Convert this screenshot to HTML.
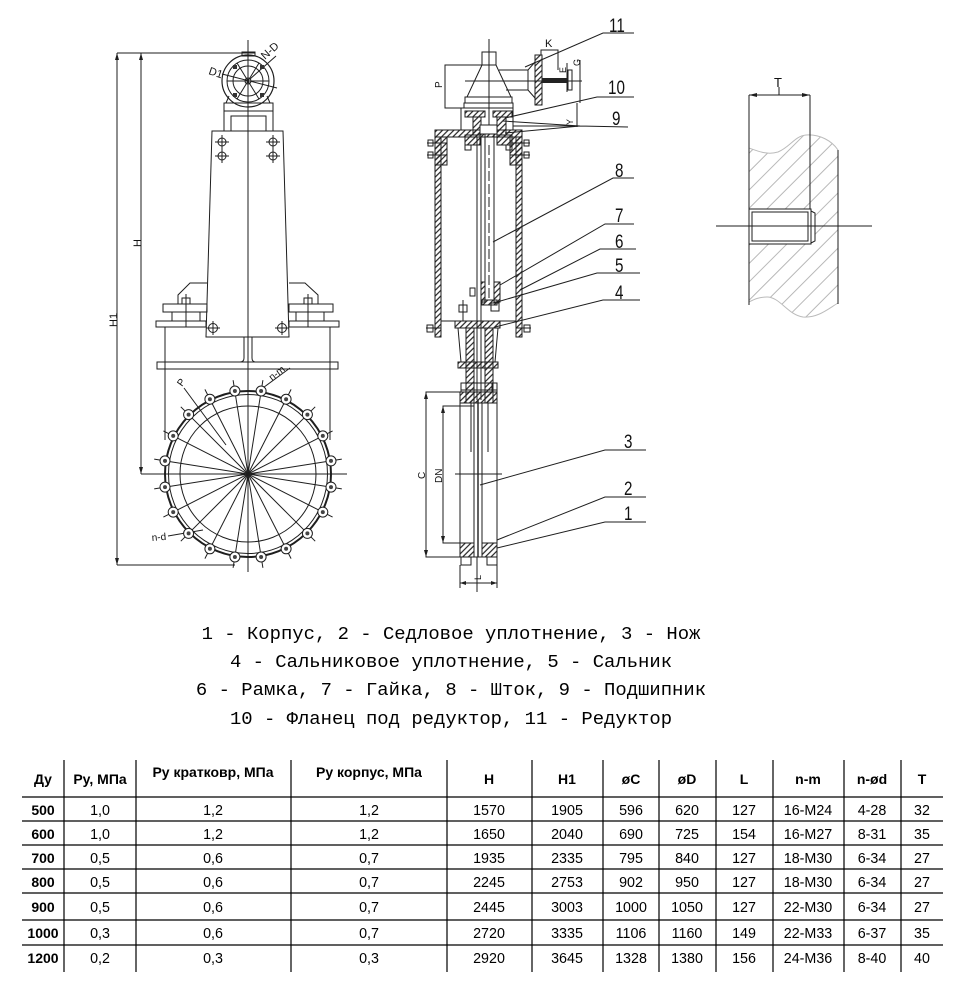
<!DOCTYPE html>
<html><head><meta charset="utf-8"><style>
html,body{margin:0;padding:0;background:#fff;}
svg{display:block;}
.d{stroke:#1e1e1e;stroke-width:1;fill:none;}
.t{font-family:"Liberation Sans",sans-serif;fill:#111;}
.m{font-family:"Liberation Mono","DejaVu Sans Mono",monospace;font-size:18.9px;fill:#000;}
.th{font-family:"Liberation Sans",sans-serif;font-size:14px;font-weight:bold;fill:#000;}
.td{font-family:"Liberation Sans",sans-serif;font-size:14.3px;fill:#000;}
.tb{font-family:"Liberation Sans",sans-serif;font-size:14px;font-weight:bold;fill:#000;}
</style></head><body>
<svg width="962" height="986" viewBox="0 0 962 986" xmlns="http://www.w3.org/2000/svg">
<defs>
<pattern id="h" patternUnits="userSpaceOnUse" width="4" height="4" patternTransform="rotate(45)">
<line x1="1" y1="0" x2="1" y2="4" stroke="#222" stroke-width="1.2"/>
</pattern>
<pattern id="h2" patternUnits="userSpaceOnUse" width="13" height="13" patternTransform="rotate(45)">
<line x1="1" y1="0" x2="1" y2="13" stroke="#b8b8b8" stroke-width="1"/>
</pattern>
<clipPath id="rc">
<path d="M749,148 C760,152 768,155 778,152 C790,147 795,136 806,135 C820,134 832,141 838,150 L838,303 C828,309 818,318 803,317 C788,315 780,297 767,297 C758,297 753,300 749,302 Z"/>
</clipPath>
</defs>

<!-- ================= LEFT VIEW ================= -->
<g class="d">
<line x1="248" y1="40" x2="248" y2="572"/>
<!-- H1 / H dims -->
<line x1="117" y1="53" x2="117" y2="565"/>
<line x1="117" y1="53" x2="255" y2="53"/>
<line x1="117" y1="565" x2="235" y2="565"/>
<line x1="141" y1="53" x2="141" y2="474"/>
<line x1="141" y1="474" x2="347" y2="474"/>
</g>
<g fill="#1e1e1e">
<path d="M117,53 l-2,7 h4z"/><path d="M117,565 l-2,-7 h4z"/>
<path d="M141,53 l-2,7 h4z"/><path d="M141,474 l-2,-7 h4z"/>
</g>
<text class="t" font-size="11" transform="translate(141,247) rotate(-90)">H</text>
<text class="t" font-size="11" transform="translate(117,327) rotate(-90)">H1</text>

<!-- gearbox top -->
<g class="d">
<rect x="242" y="52" width="13" height="4"/>
<circle cx="248" cy="81" r="26" stroke-width="1.2"/>
<circle cx="248" cy="81" r="21"/>
<circle cx="248" cy="81" r="15"/>
<circle cx="248" cy="81" r="3"/>
<line x1="227" y1="81" x2="269" y2="81"/>
<line x1="237" y1="63" x2="259" y2="99"/>
<line x1="259" y1="63" x2="237" y2="99"/>
<line x1="222" y1="74" x2="277" y2="88"/>
<line x1="250" y1="79" x2="276" y2="56"/>
<path d="M229,96 L226,103 M267,96 L270,103"/>
<rect x="224" y="103" width="49" height="8"/>
<rect x="224" y="111" width="49" height="20"/>
<rect x="231" y="116" width="35" height="15"/>
</g>
<g fill="#333"><rect x="233" y="65" width="4" height="4"/><rect x="260" y="65" width="4" height="4"/><rect x="233" y="93" width="4" height="4"/><rect x="260" y="93" width="4" height="4"/></g>
<text class="t" font-size="11" transform="translate(208,74) rotate(18)">D1</text>
<text class="t" font-size="11" transform="translate(265,60) rotate(-42)">N-D</text>

<!-- yoke -->
<g class="d">
<path d="M212,131 L283,131 L289,337 L206,337 Z"/>
<path d="M207,283 L190,283 L178,295 L178,304"/>
<path d="M289,283 L305,283 L318,295 L318,304"/>
<rect x="163" y="304" width="44" height="8"/>
<rect x="289" y="304" width="44" height="8"/>
<line x1="172" y1="312" x2="172" y2="321"/><line x1="200" y1="312" x2="200" y2="321"/>
<line x1="296" y1="312" x2="296" y2="321"/><line x1="324" y1="312" x2="324" y2="321"/>
<rect x="156" y="321" width="50" height="6"/>
<rect x="289" y="321" width="50" height="6"/>
<line x1="186" y1="294" x2="186" y2="327"/><line x1="308" y1="294" x2="308" y2="327"/>
<rect x="182" y="298" width="8" height="6"/><rect x="304" y="298" width="8" height="6"/>
<line x1="165" y1="327" x2="165" y2="440"/>
<line x1="330" y1="327" x2="330" y2="440"/>
<rect x="157" y="362" width="181" height="7"/>
<path d="M244,337 L244,358 Q244,362 240,362 M252,337 L252,358 Q252,362 256,362"/>
</g>
<!-- bolt symbols on yoke -->
<g class="d">
<circle cx="222" cy="142" r="4"/><path d="M215,142 h14 M222,135 v14"/>
<circle cx="222" cy="156" r="4"/><path d="M215,156 h14 M222,149 v14"/>
<circle cx="273" cy="142" r="4"/><path d="M266,142 h14 M273,135 v14"/>
<circle cx="273" cy="156" r="4"/><path d="M266,156 h14 M273,149 v14"/>
<circle cx="213" cy="328" r="4.5"/><path d="M206,328 h14 M213,321 v14"/>
<circle cx="282" cy="328" r="4.5"/><path d="M275,328 h14 M282,321 v14"/>
</g>

<!-- flange circle -->
<g class="d">
<circle cx="248" cy="474" r="83" stroke-width="2"/>
<circle cx="248" cy="474" r="79.5"/>
<circle cx="248" cy="474" r="68"/>
<line x1="262.9" y1="380.2" x2="233.1" y2="567.8"/>
<line x1="291.1" y1="389.4" x2="204.9" y2="558.6"/>
<line x1="315.2" y1="406.8" x2="180.8" y2="541.2"/>
<line x1="332.6" y1="430.9" x2="163.4" y2="517.1"/>
<line x1="341.8" y1="459.1" x2="154.2" y2="488.9"/>
<line x1="341.8" y1="488.9" x2="154.2" y2="459.1"/>
<line x1="332.6" y1="517.1" x2="163.4" y2="430.9"/>
<line x1="315.2" y1="541.2" x2="180.8" y2="406.8"/>
<line x1="291.1" y1="558.6" x2="204.9" y2="389.4"/>
<line x1="262.9" y1="567.8" x2="233.1" y2="380.2"/>
<line x1="184" y1="388" x2="226" y2="445"/>
<line x1="256" y1="393" x2="290" y2="368"/>
<line x1="168" y1="536" x2="203" y2="530"/>
</g>
<g stroke="#1e1e1e" stroke-width="1" fill="#fff">
<circle cx="261.1" cy="391.0" r="5"/><circle cx="286.1" cy="399.2" r="5"/><circle cx="307.4" cy="414.6" r="5"/><circle cx="322.8" cy="435.9" r="5"/><circle cx="331.0" cy="460.9" r="5"/>
<circle cx="331.0" cy="487.1" r="5"/><circle cx="322.8" cy="512.1" r="5"/><circle cx="307.4" cy="533.4" r="5"/><circle cx="286.1" cy="548.8" r="5"/><circle cx="261.1" cy="557.0" r="5"/>
<circle cx="234.9" cy="557.0" r="5"/><circle cx="209.9" cy="548.8" r="5"/><circle cx="188.6" cy="533.4" r="5"/><circle cx="173.2" cy="512.1" r="5"/><circle cx="165.0" cy="487.1" r="5"/>
<circle cx="165.0" cy="460.9" r="5"/><circle cx="173.2" cy="435.9" r="5"/><circle cx="188.6" cy="414.6" r="5"/><circle cx="209.9" cy="399.2" r="5"/><circle cx="234.9" cy="391.0" r="5"/>
</g>
<g fill="#444">
<circle cx="261.1" cy="391.0" r="2"/><circle cx="286.1" cy="399.2" r="2"/><circle cx="307.4" cy="414.6" r="2"/><circle cx="322.8" cy="435.9" r="2"/><circle cx="331.0" cy="460.9" r="2"/>
<circle cx="331.0" cy="487.1" r="2"/><circle cx="322.8" cy="512.1" r="2"/><circle cx="307.4" cy="533.4" r="2"/><circle cx="286.1" cy="548.8" r="2"/><circle cx="261.1" cy="557.0" r="2"/>
<circle cx="234.9" cy="557.0" r="2"/><circle cx="209.9" cy="548.8" r="2"/><circle cx="188.6" cy="533.4" r="2"/><circle cx="173.2" cy="512.1" r="2"/><circle cx="165.0" cy="487.1" r="2"/>
<circle cx="165.0" cy="460.9" r="2"/><circle cx="173.2" cy="435.9" r="2"/><circle cx="188.6" cy="414.6" r="2"/><circle cx="209.9" cy="399.2" r="2"/><circle cx="234.9" cy="391.0" r="2"/>
</g>
<text class="t" font-size="10" transform="translate(182,387) rotate(-55)">P</text>
<text class="t" font-size="10" transform="translate(272,381) rotate(-38)">n-m</text>
<text class="t" font-size="10" transform="translate(152,541) rotate(-5)">n-d</text>

<!-- ================= MIDDLE VIEW ================= -->
<g class="d">
<line x1="489" y1="39" x2="489" y2="135"/>
<!-- gearbox -->
<rect x="482" y="52" width="14" height="13"/>
<path d="M482,65 L467,97 L511,97 L496,65"/>
<rect x="465" y="97" width="47" height="6"/>
<rect x="464" y="103" width="49" height="5"/>
<path d="M499,70 L528,70 L535,62 M506,90 L528,90 L535,98"/>
<line x1="528" y1="70" x2="528" y2="90"/>
<line x1="465" y1="81" x2="582" y2="81"/>
<!-- K -->
<path d="M541,55 L541,50 L558,50 L558,70"/>
<line x1="567" y1="63" x2="567" y2="92"/>
<line x1="580" y1="60" x2="580" y2="103"/>
<!-- P -->
<path d="M482,65 L445,65 L445,108 L464,108"/>
<!-- Y -->
<path d="M577,103 L577,127 M513,126 L577,126"/>
<!-- housing -->
<rect x="461" y="108" width="52" height="22"/>
</g>
<g stroke="#1e1e1e" stroke-width="1" fill="url(#h)">
<rect x="535" y="55" width="7" height="50"/>
<rect x="465" y="111" width="20" height="6"/>
<rect x="493" y="111" width="19" height="6"/>
<rect x="473" y="117" width="8" height="18"/>
<rect x="497" y="117" width="9" height="18"/>
</g>
<rect x="542" y="78" width="26" height="5" fill="#222"/>
<rect x="568" y="70" width="4" height="20" fill="none" stroke="#1e1e1e"/>
<text class="t" font-size="11" x="545" y="47">K</text>
<text class="t" font-size="9" transform="translate(566,73) rotate(-90)">E</text>
<text class="t" font-size="9" transform="translate(580,66) rotate(-90)">G</text>
<text class="t" font-size="10" transform="translate(442,88) rotate(-90)">P</text>
<text class="t" font-size="9" transform="translate(573,125) rotate(-90)">Y</text>

<!-- frame -->
<g stroke="#1e1e1e" stroke-width="1" fill="url(#h)">
<rect x="435" y="130" width="87" height="7"/>
<rect x="435" y="137" width="6" height="200"/>
<rect x="516" y="137" width="6" height="200"/>
<rect x="435" y="137" width="12" height="28"/>
<rect x="510" y="137" width="12" height="28"/>
<rect x="465" y="135" width="15" height="10"/>
<rect x="497" y="135" width="15" height="10"/>
</g>
<g class="d">
<rect x="480" y="125" width="17" height="9" fill="#fff"/>
<line x1="427" y1="143" x2="447" y2="143"/><line x1="427" y1="155" x2="447" y2="155"/>
<rect x="428" y="140" width="5" height="6"/><rect x="428" y="152" width="5" height="6"/>
<line x1="510" y1="143" x2="530" y2="143"/><line x1="510" y1="155" x2="530" y2="155"/>
<rect x="524" y="140" width="5" height="6"/><rect x="524" y="152" width="5" height="6"/>
<rect x="465" y="145" width="6" height="5"/><rect x="506" y="145" width="6" height="5"/>
<line x1="441" y1="321" x2="516" y2="321"/>
<line x1="426" y1="328" x2="441" y2="328"/><rect x="427" y="325" width="6" height="7"/>
<line x1="516" y1="328" x2="531" y2="328"/><rect x="524" y="325" width="6" height="7"/>
<!-- stem -->
<line x1="477" y1="137" x2="477" y2="400"/>
<line x1="481" y1="137" x2="481" y2="400"/>
<line x1="485" y1="134" x2="485" y2="302"/>
<line x1="494" y1="134" x2="494" y2="302"/>
<line x1="489" y1="145" x2="489" y2="300" stroke-dasharray="10,3"/>
<rect x="470" y="288" width="5" height="8"/>
<line x1="463" y1="300" x2="463" y2="321"/>
<rect x="459" y="305" width="8" height="7"/>
<rect x="491" y="303" width="8" height="8"/>
</g>
<g stroke="#1e1e1e" stroke-width="1" fill="url(#h)">
<rect x="494" y="282" width="6" height="20"/>
<rect x="481" y="282" width="4" height="20"/>
<rect x="482" y="300" width="15" height="5"/>
<rect x="455" y="321" width="45" height="7"/>
<rect x="466" y="328" width="8" height="75"/>
<rect x="485" y="328" width="8" height="75"/>
<rect x="458" y="362" width="40" height="6"/>
<rect x="460" y="392" width="37" height="11"/>
<rect x="460" y="543" width="14" height="14"/>
<rect x="482" y="543" width="15" height="14"/>
</g>
<g class="d">
<path d="M458,328 L461,362 M498,328 L495,362"/>
<path d="M461,383 L497,383 L497,390 L461,390 Z"/>
<rect x="461" y="383" width="5" height="9"/><rect x="492" y="383" width="5" height="9"/>
<rect x="460" y="392" width="37" height="165"/>
<line x1="474" y1="403" x2="474" y2="543"/>
<line x1="482" y1="403" x2="482" y2="543"/>
<line x1="478" y1="400" x2="478" y2="557" stroke-width="1.4"/>
<line x1="471" y1="403" x2="471" y2="452"/>
<line x1="488" y1="403" x2="488" y2="452"/>
<rect x="461" y="557" width="10" height="8"/>
<rect x="487" y="557" width="10" height="8"/>
<line x1="477" y1="557" x2="477" y2="592"/>
<line x1="455" y1="474" x2="502" y2="474"/>
<!-- C -->
<path d="M460,392 L426,392 L426,557 L460,557"/>
<!-- DN -->
<path d="M474,406 L443,406 L443,543 L474,543"/>
<!-- L -->
<path d="M460,565 L460,588 M497,565 L497,588 M460,583 L497,583"/>
</g>
<g fill="#1e1e1e">
<path d="M426,392 l-2,7 h4z"/><path d="M426,557 l-2,-7 h4z"/>
<path d="M443,406 l-2,7 h4z"/><path d="M443,543 l-2,-7 h4z"/>
<path d="M460,583 l6,-2 v4z"/><path d="M497,583 l-6,-2 v4z"/>
</g>
<text class="t" font-size="10" transform="translate(425,479) rotate(-90)">C</text>
<text class="t" font-size="10" transform="translate(442,483) rotate(-90)">DN</text>
<text class="t" font-size="9" transform="translate(481,580) rotate(-90)">L</text>

<!-- leaders -->
<g class="d">
<path d="M634,33 L603,33 L525,67"/>
<path d="M634,97 L597,97 L505,118"/>
<path d="M628,127 L580,126 L503,121 M580,126 L505,133"/>
<path d="M634,178 L613,178 L493,242"/>
<path d="M634,224 L605,224 L500,285"/>
<path d="M636,249 L600,249 L520,290"/>
<path d="M640,273 L597,273 L497,302"/>
<path d="M640,300 L603,300 L495,327"/>
<path d="M646,450 L605,450 L480,485"/>
<path d="M646,497 L605,497 L497,540"/>
<path d="M646,522 L605,522 L497,548"/>
</g>
<g class="t" font-size="19">
<text transform="translate(609,32) scale(0.8,1)">11</text>
<text transform="translate(608,94) scale(0.8,1)">10</text>
<text transform="translate(612,125) scale(0.8,1)">9</text>
<text transform="translate(615,177) scale(0.8,1)">8</text>
<text transform="translate(615,222) scale(0.8,1)">7</text>
<text transform="translate(615,248) scale(0.8,1)">6</text>
<text transform="translate(615,272) scale(0.8,1)">5</text>
<text transform="translate(615,299) scale(0.8,1)">4</text>
<text transform="translate(624,448) scale(0.8,1)">3</text>
<text transform="translate(624,495) scale(0.8,1)">2</text>
<text transform="translate(624,520) scale(0.8,1)">1</text>
</g>

<!-- ================= RIGHT DETAIL ================= -->
<g clip-path="url(#rc)">
<rect x="740" y="120" width="110" height="210" fill="url(#h2)"/>
<rect x="749" y="209" width="66" height="35" fill="#fff"/>
</g>
<g fill="none" stroke="#bbb" stroke-width="1">
<path d="M749,148 C760,152 768,155 778,152 C790,147 795,136 806,135 C820,134 832,141 838,150"/>
<path d="M838,303 C828,309 818,318 803,317 C788,315 780,297 767,297 C758,297 753,300 749,302"/>
</g>
<g class="d">
<line x1="749" y1="95" x2="749" y2="305"/>
<line x1="810" y1="95" x2="810" y2="209"/>
<line x1="838" y1="150" x2="838" y2="304"/>
<line x1="749" y1="95" x2="810" y2="95"/>
<line x1="779" y1="87" x2="779" y2="95"/>
<rect x="749" y="209" width="62" height="35"/>
<rect x="752" y="212" width="56" height="29"/>
<path d="M811,211 L815,213 L815,241 L811,243"/>
<line x1="716" y1="226" x2="872" y2="226"/>
</g>
<g fill="#1e1e1e"><path d="M749,95 l8,-2 v4z"/><path d="M810,95 l-8,-2 v4z"/></g>
<text class="t" font-size="13" x="774" y="87">T</text>

<!-- ================= LEGEND ================= -->
<g class="m" text-anchor="middle">
<text x="451" y="639">1 - Корпус, 2 - Седловое уплотнение, 3 - Нож</text>
<text x="451" y="667">4 - Сальниковое уплотнение, 5 - Сальник</text>
<text x="451" y="695">6 - Рамка, 7 - Гайка, 8 - Шток, 9 - Подшипник</text>
<text x="451" y="724">10 - Фланец под редуктор, 11 - Редуктор</text>
</g>

<!-- ================= TABLE ================= -->
<g stroke="#000" stroke-width="1.2">
<line x1="64" y1="760" x2="64" y2="972"/>
<line x1="136" y1="760" x2="136" y2="972"/>
<line x1="291" y1="760" x2="291" y2="972"/>
<line x1="447" y1="760" x2="447" y2="972"/>
<line x1="532" y1="760" x2="532" y2="972"/>
<line x1="603" y1="760" x2="603" y2="972"/>
<line x1="659" y1="760" x2="659" y2="972"/>
<line x1="716" y1="760" x2="716" y2="972"/>
<line x1="773" y1="760" x2="773" y2="972"/>
<line x1="844" y1="760" x2="844" y2="972"/>
<line x1="901" y1="760" x2="901" y2="972"/>
<line x1="22" y1="797" x2="943" y2="797"/>
<line x1="22" y1="821" x2="943" y2="821"/>
<line x1="22" y1="845" x2="943" y2="845"/>
<line x1="22" y1="869" x2="943" y2="869"/>
<line x1="22" y1="893" x2="943" y2="893"/>
<line x1="22" y1="920" x2="943" y2="920"/>
<line x1="22" y1="945" x2="943" y2="945"/>
</g>
<g class="th" text-anchor="middle">
<text x="43" y="784">Ду</text>
<text x="100" y="784">Ру, МПа</text>
<text x="213" y="777">Ру кратковр, МПа</text>
<text x="369" y="777">Ру корпус, МПа</text>
<text x="489" y="784">H</text>
<text x="567" y="784">H1</text>
<text x="631" y="784">øC</text>
<text x="687" y="784">øD</text>
<text x="744" y="784">L</text>
<text x="808" y="784">n-m</text>
<text x="872" y="784">n-ød</text>
<text x="922" y="784">T</text>
</g>
<g class="tb" text-anchor="middle">
<text x="43" y="815">500</text><text x="43" y="839">600</text><text x="43" y="863">700</text><text x="43" y="887">800</text><text x="43" y="912">900</text><text x="43" y="938">1000</text><text x="43" y="963">1200</text>
</g>
<g class="td" text-anchor="middle">
<text x="100" y="815">1,0</text><text x="213" y="815">1,2</text><text x="369" y="815">1,2</text><text x="489" y="815">1570</text><text x="567" y="815">1905</text><text x="631" y="815">596</text><text x="687" y="815">620</text><text x="744" y="815">127</text><text x="808" y="815">16-M24</text><text x="872" y="815">4-28</text><text x="922" y="815">32</text>
<text x="100" y="839">1,0</text><text x="213" y="839">1,2</text><text x="369" y="839">1,2</text><text x="489" y="839">1650</text><text x="567" y="839">2040</text><text x="631" y="839">690</text><text x="687" y="839">725</text><text x="744" y="839">154</text><text x="808" y="839">16-M27</text><text x="872" y="839">8-31</text><text x="922" y="839">35</text>
<text x="100" y="863">0,5</text><text x="213" y="863">0,6</text><text x="369" y="863">0,7</text><text x="489" y="863">1935</text><text x="567" y="863">2335</text><text x="631" y="863">795</text><text x="687" y="863">840</text><text x="744" y="863">127</text><text x="808" y="863">18-M30</text><text x="872" y="863">6-34</text><text x="922" y="863">27</text>
<text x="100" y="887">0,5</text><text x="213" y="887">0,6</text><text x="369" y="887">0,7</text><text x="489" y="887">2245</text><text x="567" y="887">2753</text><text x="631" y="887">902</text><text x="687" y="887">950</text><text x="744" y="887">127</text><text x="808" y="887">18-M30</text><text x="872" y="887">6-34</text><text x="922" y="887">27</text>
<text x="100" y="912">0,5</text><text x="213" y="912">0,6</text><text x="369" y="912">0,7</text><text x="489" y="912">2445</text><text x="567" y="912">3003</text><text x="631" y="912">1000</text><text x="687" y="912">1050</text><text x="744" y="912">127</text><text x="808" y="912">22-M30</text><text x="872" y="912">6-34</text><text x="922" y="912">27</text>
<text x="100" y="938">0,3</text><text x="213" y="938">0,6</text><text x="369" y="938">0,7</text><text x="489" y="938">2720</text><text x="567" y="938">3335</text><text x="631" y="938">1106</text><text x="687" y="938">1160</text><text x="744" y="938">149</text><text x="808" y="938">22-M33</text><text x="872" y="938">6-37</text><text x="922" y="938">35</text>
<text x="100" y="963">0,2</text><text x="213" y="963">0,3</text><text x="369" y="963">0,3</text><text x="489" y="963">2920</text><text x="567" y="963">3645</text><text x="631" y="963">1328</text><text x="687" y="963">1380</text><text x="744" y="963">156</text><text x="808" y="963">24-M36</text><text x="872" y="963">8-40</text><text x="922" y="963">40</text>
</g>
</svg>
</body></html>
